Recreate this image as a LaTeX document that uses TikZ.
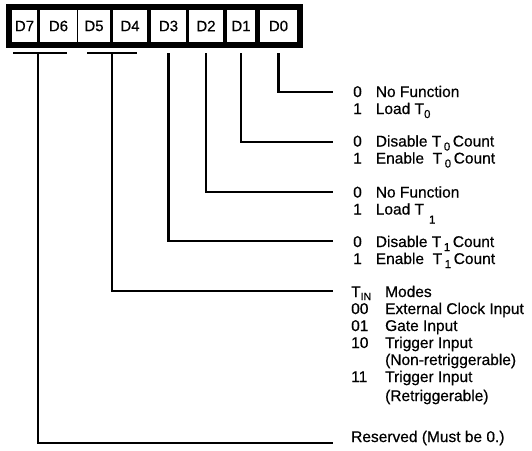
\documentclass[tikz,border=0pt]{standalone}
\usepackage{fontspec}
\setmainfont[FakeBold=0.5]{Liberation Sans}
\usetikzlibrary{fit,backgrounds}
\newcommand{\sub}[1]{\raisebox{-4pt}{\fontsize{11.5}{11.5}\selectfont #1}}
\newcommand{\lowsub}[1]{\raisebox{-9pt}{\fontsize{11.5}{11.5}\selectfont #1}}
\tikzset{
  bitcell/.style={
    rectangle, fill=white, inner sep=0pt,
    minimum height=32pt, font=\fontsize{15}{15}\selectfont
  },
  regframe/.style={rectangle, fill=black, inner sep=6pt},
  wire/.style={line width=2.6pt},
  fieldtext/.style={anchor=base west, inner sep=0pt, font=\fontsize{15.5}{17}\selectfont},
}

\begin{document}
\begin{tikzpicture}[x=1pt, y=-1pt]
  \useasboundingbox (0,0) rectangle (532,450);
  % register bits
  \foreach \b/\xl/\xr in {7/12/37,6/40/77,5/78/110,4/113/147,3/151/186,2/189/223,1/227/255,0/260/297}
    \node[bitcell, minimum width={(\xr-\xl)*1pt}] (b\b) at ({(\xl+\xr)/2},26) {D\b};
  \begin{scope}[on background layer]
    \node[regframe, fit=(b7)(b0)] (reg) {};
  \end{scope}
  % field descriptions
  \node[fieldtext] (f0) at (353,97) {\begin{tabular}[t]{@{}l@{\hspace{14pt}}l@{}}
    0 & No Function\\
    1 & Load T\sub{0}
  \end{tabular}};
  \node[fieldtext] (f1) at (353,146.5) {\begin{tabular}[t]{@{}l@{\hspace{14pt}}l@{}}
    0 & Disable T\,\sub{0}\,Count\\
    1 & Enable\ \ T\,\sub{0}\,Count
  \end{tabular}};
  \node[fieldtext] (f2) at (353,197.5) {\begin{tabular}[t]{@{}l@{\hspace{14pt}}l@{}}
    0 & No Function\\
    1 & Load T\hspace{5pt}\lowsub{1}
  \end{tabular}};
  \node[fieldtext] (f3) at (353,247) {\begin{tabular}[t]{@{}l@{\hspace{14pt}}l@{}}
    0 & Disable T\,\sub{1}\,Count\\
    1 & Enable\ \ T\,\sub{1}\,Count
  \end{tabular}};
  \node[fieldtext] (f4) at (351,297) {\begin{tabular}[t]{@{}l@{\hspace{14pt}}l@{}}
    T\raisebox{-3pt}{\fontsize{10.5}{10.5}\selectfont IN} & Modes\\
    00 & External Clock Input\\
    01 & Gate Input\\
    10 & Trigger Input\\
       & (Non-retriggerable)\\
    11 & Trigger Input\\[2pt]
       & (Retriggerable)
  \end{tabular}};
  \node[fieldtext] (f5) at (351,442) {Reserved (Must be 0.)};
  % connector ends
  \coordinate (e0) at (333,92);
  \coordinate (e1) at (333,142);
  \coordinate (e2) at (333,192);
  \coordinate (e3) at (333,241);
  \coordinate (e4) at (333,291);
  \coordinate (e5) at (333,443);
  \coordinate (t76) at (38,53);
  \coordinate (t54) at (112,53);
  % connectors
  \draw[wire] (13,53) -- (67,53);
  \draw[wire] (87,53) -- (137,53);
  \foreach \b in {0,1,2,3}
    \draw[wire] ([yshift=-11pt]b\b.south) |- (e\b);
  \draw[wire] (t54) |- (e4);
  \draw[wire] (t76) |- (e5);
\end{tikzpicture}
\end{document}
